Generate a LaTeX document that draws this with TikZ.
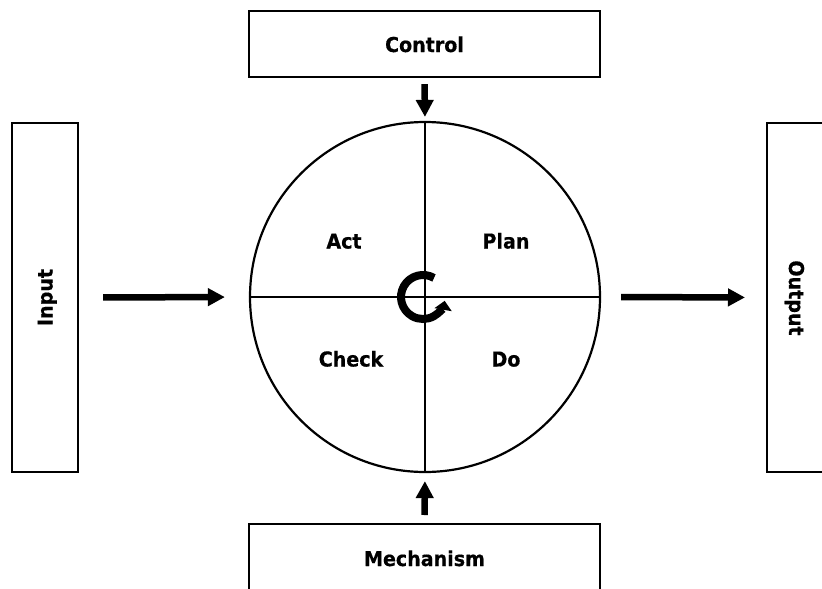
\documentclass[tikz,border=0pt]{standalone}
\usepackage{fontspec}
\setmainfont{DejaVu Sans}
\newfontfamily\lblfont{DejaVu Sans}[BoldFeatures={FakeStretch=0.93, FakeBold=0.5}]
\usetikzlibrary{arrows.meta}

\begin{document}
\begin{tikzpicture}[x=1pt, y=-1pt,
  box/.style={draw, line width=2.2pt, inner sep=0pt},
  lbl/.style={font=\lblfont\bfseries\fontsize{20.5}{24}\selectfont, inner sep=0pt, anchor=base},
  flow/.style={line width=6.5pt, -{Triangle[length=17pt, width=17pt]}},
]
\clip (0,0) rectangle (822,589);

% surrounding boxes
\node[box, minimum width=351pt, minimum height=66pt] (control) at (424.5,44) {};
\node[box, minimum width=351pt, minimum height=90pt, anchor=north] (mech) at (424.5,523) {};
\node[box, minimum width=66pt, minimum height=349pt] (input) at (45,297.5) {};
\node[box, minimum width=90pt, minimum height=349pt, anchor=west] (output) at (766,297.5) {};

\node[lbl] (controltext) at (424.5,52) {Control};
\node[lbl] (mechtext) at (424.5,566) {Mechanism};
\node[lbl, rotate=90] (inputtext) at (52.5,297.5) {Input};
\node[lbl, rotate=-90] (outputtext) at (789,298) {Output};

% PDCA circle split into quadrants
\node[draw, circle, line width=2.2pt, minimum size=350pt, inner sep=0pt] (pdca) at (425,297) {};
\draw[line width=2.2pt] (pdca.west) -- (pdca.east);
\draw[line width=2.2pt] (pdca.north) -- (pdca.south);

\node[lbl] (act) at (344,248.5) {Act};
\node[lbl] (plan) at (506,248.5) {Plan};
\node[lbl] (check) at (351,366.5) {Check};
\node[lbl] (do) at (506,366.5) {Do};

% cycle symbol in the middle
\coordinate (spin) at (423,297);
\draw[line width=8pt, -{Triangle[length=9pt, width=17pt]}]
  ([shift={(60:22pt)}]spin) arc[start angle=60, end angle=350, radius=22pt];

% flows into and out of the cycle
\draw[flow, shorten <=24pt, shorten >=24pt] (input.east) -- (pdca.west);
\draw[flow, shorten <=20pt, shorten >=21pt] (pdca.east) -- (output.west);
\draw[flow, shorten <=6pt, shorten >=4pt] (control.south) -- (pdca.north);
\draw[flow, shorten <=8pt, shorten >=8pt] (mech.north) -- (pdca.south);
\end{tikzpicture}
\end{document}
